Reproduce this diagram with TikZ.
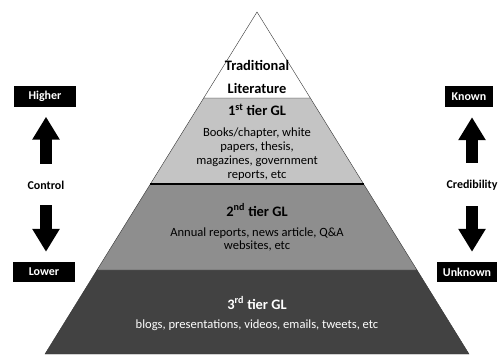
\documentclass[tikz,border=0pt]{standalone}
\usepackage{fontspec}
\setmainfont{Carlito}
\usetikzlibrary{arrows.meta}
\definecolor{tierone}{HTML}{C4C4C4}
\definecolor{tiertwo}{HTML}{8E8E8E}
\definecolor{tierthree}{HTML}{424242}
\tikzset{
  levelbox/.style={fill=black,text=white,font=\bfseries\fontsize{12}{14}\selectfont,inner sep=0pt,minimum height=21bp},
  sidelabel/.style={font=\bfseries\fontsize{12}{14}\selectfont,inner sep=0pt},
  bigarrow/.style={line width=12bp,-{Triangle[width=26bp,length=23bp]}},
  tiertitle/.style={font=\bfseries\fontsize{14.5}{16}\selectfont,inner sep=0pt},
  tiertext/.style={font=\fontsize{12.6}{14}\selectfont,align=center,inner sep=0pt}
}
\begin{document}
\begin{tikzpicture}[x=1bp,y=1bp]
	\useasboundingbox (0,0) rectangle (498,354);

	% tiers, bottom to top
	\filldraw[draw=black!80,fill=tierthree] (45,0) -- (97,84) -- (417,84) -- (469,0) -- cycle;
	\filldraw[draw=black!80,fill=tiertwo] (97,84) -- (150.4,170) -- (363.6,170) -- (417,84) -- cycle;
	\filldraw[draw=black!80,fill=tierone] (150.4,170) -- (203.7,256) -- (310.3,256) -- (363.6,170) -- cycle;
	\filldraw[draw=black!80,fill=white] (203.7,256) -- (257,342) -- (310.3,256) -- cycle;
	\draw[line width=2bp] (150.4,170) -- (363.6,170);

	% texts in the pyramid
	\node[tiertitle] (trad) at (257,289) {Traditional};
	\node[tiertitle] (lit) at (257,266) {Literature};
	\node[tiertitle] (first) at (257,244) {1\textsuperscript{st} tier GL};
	\node[tiertext] (firsttxt) at (257,200) {Books/chapter, white\\papers, thesis,\\magazines, government\\reports, etc};
	\node[tiertitle] (second) at (257,144) {2\textsuperscript{nd} tier GL};
	\node[tiertext,font=\fontsize{12.6}{13}\selectfont] (secondtxt) at (257,114.5) {Annual reports, news article, Q\&A\\websites, etc};
	\node[tiertitle,text=white] (third) at (257,51) {3\textsuperscript{rd} tier GL};
	\node[tiertext,text=white] (thirdtxt) at (257,29) {blogs, presentations, videos, emails, tweets, etc};

	% control scale
	\node[levelbox,minimum width=62bp] (higher) at (45,258) {Higher};
	\node[sidelabel] (control) at (46,169) {Control};
	\node[levelbox,minimum width=62bp,minimum height=20bp] (lower) at (44,82) {Lower};
	\draw[bigarrow,shorten <=17bp,shorten >=10bp] (control.north) -- (control.north |- higher.south);
	\draw[bigarrow,shorten <=16bp,shorten >=10bp] (control.south) -- (control.south |- lower.north);

	% credibility scale
	\node[levelbox,minimum width=48bp] (known) at (469,257.5) {Known};
	\node[sidelabel] (cred) at (472,169) {Credibility};
	\node[levelbox,minimum width=60bp,minimum height=20bp] (unknown) at (467,82) {Unknown};
	\draw[bigarrow,shorten <=17bp,shorten >=10bp] (cred.north) -- (cred.north |- known.south);
	\draw[bigarrow,shorten <=16bp,shorten >=10bp] (cred.south) -- (cred.south |- unknown.north);
\end{tikzpicture}
\end{document}
